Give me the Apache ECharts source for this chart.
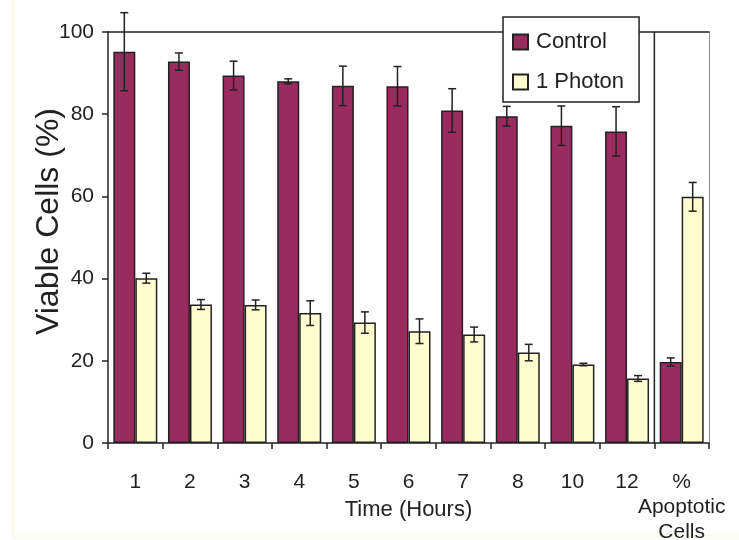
<!DOCTYPE html>
<html>
<head>
<meta charset="utf-8">
<script src="https://cdn.jsdelivr.net/npm/echarts@6/dist/echarts.min.js"></script>
<style>
  html, body { margin: 0; padding: 0; background: #ffffff; }
  #chart { width: 739px; height: 540px; }
</style>
</head>
<body>
<div id="chart"></div>
<script>
// Time points (hours) plus the apoptosis group
const categories = ['1', '2', '3', '4', '5', '6', '7', '8', '10', '12', '%\nApoptotic\nCells'];

// Viable cells (%) and standard deviations
const controlValues = [95.2, 92.8, 89.4, 88.0, 86.9, 86.8, 80.9, 79.5, 77.2, 75.8, 19.7];
const controlErrors = [9.5, 2.1, 3.5, 0.6, 4.8, 4.8, 5.3, 2.4, 4.8, 6.0, 1.0];
const photonValues = [40.1, 33.7, 33.6, 31.6, 29.3, 27.2, 26.4, 22.0, 19.1, 15.7, 59.9];
const photonErrors = [1.2, 1.2, 1.2, 3.0, 2.6, 3.0, 1.8, 2.0, 0.3, 0.7, 3.5];

const yTicks = [0, 20, 40, 60, 80, 100];

// The apoptosis group is set apart from the time series by a divider
const dividerBefore = categories.length - 1;

const FONT = '"Liberation Sans", Arial, Helvetica, sans-serif';
const INK = '#222222';
const BAR_W = 22;

// Draws a vertical error bar with caps, offset from the category centre
function errorBars(values, errors, offset) {
  return {
    type: 'custom',
    z: 5,
    silent: true,
    data: values.map((v, i) => [i, v - errors[i], v + errors[i]]),
    renderItem: function (params, api) {
      const lo = api.coord([api.value(0), api.value(1)]);
      const hi = api.coord([api.value(0), api.value(2)]);
      const x = lo[0] + offset;
      const cap = 4;
      const style = { stroke: INK, lineWidth: 1.5 };
      return {
        type: 'group',
        children: [
          { type: 'line', shape: { x1: x, y1: lo[1], x2: x, y2: hi[1] }, style: style },
          { type: 'line', shape: { x1: x - cap, y1: hi[1], x2: x + cap, y2: hi[1] }, style: style },
          { type: 'line', shape: { x1: x - cap, y1: lo[1], x2: x + cap, y2: lo[1] }, style: style }
        ]
      };
    }
  };
}

const chart = echarts.init(document.getElementById('chart'), null, { renderer: 'canvas' });

chart.setOption({
  backgroundColor: '#fdfbf1',
  animation: false,
  textStyle: { fontFamily: FONT },
  graphic: [
    { type: 'rect', z: -10, shape: { x: 15, y: 0, width: 724, height: 534 }, style: { fill: '#ffffff' } },
    { type: 'rect', z: -10, shape: { x: 0, y: 0, width: 11, height: 540 }, style: { fill: '#ffffff' } },
    { type: 'rect', z: -10, shape: { x: 0, y: 538, width: 739, height: 2 }, style: { fill: '#ffffff' } }
  ],
  grid: { left: 108, right: 30, top: 32, bottom: 97, containLabel: false, outerBoundsMode: 'none' },
  legend: {
    orient: 'vertical',
    left: 503,
    top: 17,
    padding: [14, 15, 9, 9],
    itemGap: 18,
    itemWidth: 15,
    itemHeight: 15,
    icon: 'rect',
    backgroundColor: '#ffffff',
    borderColor: INK,
    borderWidth: 1.5,
    z: 10,
    textStyle: { fontSize: 22, color: INK, fontFamily: FONT, padding: [0, 0, 0, 3] },
    data: ['Control', '1 Photon']
  },
  xAxis: [
    {
      type: 'category',
      data: categories,
      name: 'Time (Hours)',
      nameLocation: 'middle',
      nameGap: 56,
      nameMoveOverlap: false,
      nameTextStyle: { fontSize: 22, color: INK, fontFamily: FONT, verticalAlign: 'top' },
      axisLine: { show: true, lineStyle: { color: INK, width: 1.5 } },
      axisTick: { show: true, alignWithLabel: false, length: 6, lineStyle: { color: INK, width: 1.5 } },
      axisLabel: { margin: 27, fontSize: 21, color: INK, fontFamily: FONT, lineHeight: 25, interval: 0 },
      splitLine: { show: false }
    },
    {
      // top frame line
      type: 'category',
      position: 'top',
      data: categories,
      axisLine: { show: true, onZero: false, lineStyle: { color: INK, width: 1.5 } },
      axisTick: { show: false },
      axisLabel: { show: false },
      splitLine: { show: false }
    }
  ],
  yAxis: [
    {
      type: 'value',
      min: yTicks[0],
      max: yTicks[yTicks.length - 1],
      interval: 20,
      name: 'Viable Cells (%)',
      nameLocation: 'middle',
      nameGap: 43,
      nameMoveOverlap: false,
      nameTextStyle: { fontSize: 32, color: INK, fontFamily: FONT, padding: [0, 0, 0, 32] },
      axisLine: { show: true, lineStyle: { color: INK, width: 1.5 } },
      axisTick: { show: true, length: 6, lineStyle: { color: INK, width: 1.5 } },
      axisLabel: { margin: 14, fontSize: 21, color: INK, fontFamily: FONT },
      splitLine: { show: false }
    },
    {
      // right frame line
      type: 'value',
      position: 'right',
      min: yTicks[0],
      max: yTicks[yTicks.length - 1],
      interval: 20,
      axisLine: { show: true, onZero: false, lineStyle: { color: '#8a8a8a', width: 1 } },
      axisTick: { show: false },
      axisLabel: { show: false },
      splitLine: { show: false }
    }
  ],
  series: [
    {
      name: 'Control',
      type: 'bar',
      data: controlValues,
      barWidth: BAR_W,
      barGap: '0%',
      itemStyle: { color: '#9a2b5f', borderColor: INK, borderWidth: 1.5 }
    },
    {
      name: '1 Photon',
      type: 'bar',
      data: photonValues,
      barWidth: BAR_W,
      barGap: '0%',
      itemStyle: { color: '#fefdcf', borderColor: INK, borderWidth: 1.5 }
    },
    errorBars(controlValues, controlErrors, -BAR_W / 2),
    errorBars(photonValues, photonErrors, BAR_W / 2),
    {
      // vertical divider on the left edge of the apoptosis group
      type: 'custom',
      silent: true,
      z: 1,
      data: [[dividerBefore, yTicks[0], yTicks[yTicks.length - 1]]],
      renderItem: function (params, api) {
        const bottom = api.coord([api.value(0), api.value(1)]);
        const top = api.coord([api.value(0), api.value(2)]);
        const x = bottom[0] - api.size([1, 0])[0] / 2;
        return {
          type: 'line',
          shape: { x1: x, y1: bottom[1], x2: x, y2: top[1] },
          style: { stroke: INK, lineWidth: 1.5 }
        };
      }
    }
  ]
});
</script>
</body>
</html>
